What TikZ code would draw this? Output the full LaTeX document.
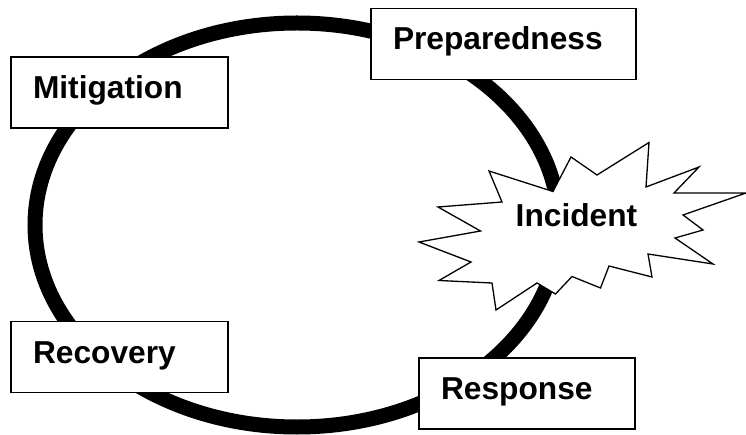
\documentclass[tikz,border=0pt]{standalone}
\usepackage{fontspec}
\setmainfont{Liberation Sans}
\usepackage{tikz}

\begin{document}
\begin{tikzpicture}[x=1pt, y=-1pt,
	phase/.style={shape=rectangle, draw=black, fill=white, line width=1.2pt, align=left, inner xsep=22pt, inner ysep=0pt, minimum height=71pt, text height=23pt, text depth=11pt, font=\fontsize{31.7}{38}\selectfont\bfseries},
	ring/.style={draw=black, line width=15pt},
	burst/.style={draw=black, fill=white, line width=1.3pt, line join=miter}]
	
	\useasboundingbox (0,0) rectangle (746,435);
	
	\coordinate (hub) at (297,225);
	\draw[ring] (hub) ellipse [x radius=262pt, y radius=202pt];
	
	\node[phase, text width=173pt] (mitigation)   at (119.5, 92.5) {Mitigation};
	\node[phase, text width=221pt] (preparedness) at (503.5, 44)   {Preparedness};
	\node[phase, text width=173pt] (recovery)     at (119.5, 357)  {Recovery};
	\node[phase, text width=172pt] (response)     at (527, 393.5)  {Response};
	
	\draw[burst] (489,171) -- (553,191.5) -- (571,157) -- (597,175) -- (649,142.5) -- (646,187)
		-- (699,167) -- (674,193) -- (746,193) -- (683,215) -- (703,230) -- (675,238)
		-- (713,264) -- (648,254) -- (652,277) -- (609,266) -- (600.5,288) -- (572,276.5)
		-- (555.5,294) -- (537,283) -- (496,310) -- (492,283) -- (439,280.5) -- (471,262)
		-- (419,242) -- (480.5,231) -- (438,207) -- (502,202) -- cycle;
	\node[anchor=base, inner sep=0pt, font=\fontsize{31.7}{38}\selectfont\bfseries] (incident) at (576.5,227) {Incident};
	
\end{tikzpicture}
\end{document}
